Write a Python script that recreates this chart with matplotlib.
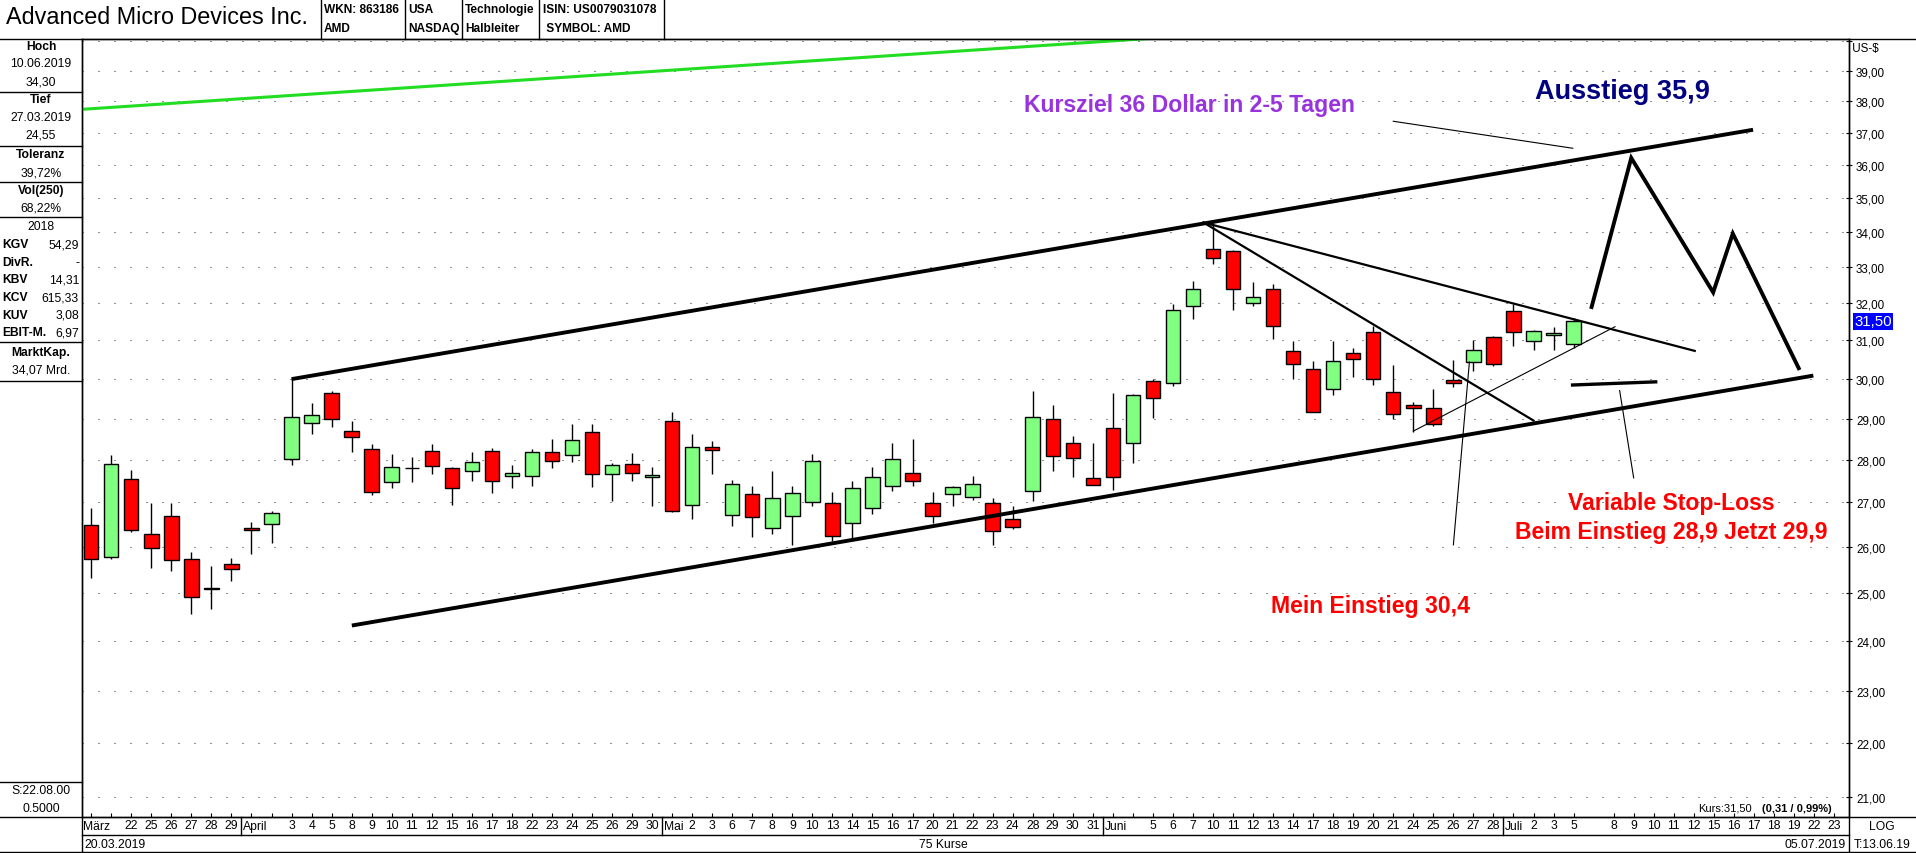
import matplotlib
matplotlib.use("Agg")
import matplotlib.pyplot as plt
from matplotlib import font_manager
from matplotlib.lines import Line2D
import numpy as np

W, H = 1916, 854

# ---- data (AMD, daily, 20.03.2019 - 05.07.2019) ----
opens = [26.49, 25.78, 27.55, 26.29, 26.69, 25.72, 25.11, 25.61, 26.41, 26.51,
         28.02, 28.88, 29.63, 28.69, 28.26, 27.48, 27.81, 28.21, 27.81, 27.74,
         28.21, 27.61, 27.61, 28.19, 28.12, 28.67, 27.67, 27.90, 27.60, 28.95,
         26.93, 28.31, 26.71, 27.19, 26.42, 26.69, 27.00, 26.98, 26.53, 26.87,
         27.38, 27.69, 26.98, 27.19, 27.12, 26.98, 26.62, 27.26, 29.00, 28.40,
         27.57, 28.76, 28.40, 29.93, 29.88, 31.92, 33.52, 33.44, 32.00, 32.39,
         30.71, 30.24, 29.75, 30.66, 31.23, 29.65, 29.33, 29.26, 29.98, 30.43,
         31.08, 31.79, 30.97, 31.13, 30.89]
highs = [26.87, 28.12, 27.76, 26.98, 26.98, 25.89, 25.57, 25.74, 26.56, 26.80,
         29.99, 29.38, 29.68, 28.95, 28.38, 28.14, 28.07, 28.38, 27.83, 28.19,
         28.29, 27.88, 28.25, 28.51, 28.86, 28.86, 27.91, 28.15, 27.82, 29.16,
         28.63, 28.44, 27.51, 27.37, 27.73, 27.39, 28.13, 27.25, 27.49, 27.82,
         28.39, 28.49, 27.25, 27.39, 27.61, 27.10, 26.91, 29.69, 29.34, 28.58,
         28.39, 29.64, 29.62, 30.00, 31.97, 32.60, 34.30, 33.49, 32.57, 32.51,
         30.98, 30.45, 30.98, 30.80, 31.37, 30.36, 29.40, 29.73, 30.48, 31.00,
         31.11, 31.97, 31.26, 31.34, 31.58]
lows = [25.32, 25.72, 26.32, 25.53, 25.47, 24.55, 24.66, 25.25, 25.84, 26.08,
        27.87, 28.61, 28.80, 28.18, 27.18, 27.33, 27.47, 27.65, 26.95, 27.49,
        27.21, 27.33, 27.39, 27.80, 27.94, 27.36, 27.04, 27.49, 26.92, 26.77,
        26.61, 27.66, 26.46, 26.21, 26.28, 26.04, 26.92, 26.13, 26.19, 26.73,
        27.26, 27.39, 26.52, 26.92, 27.06, 26.04, 26.39, 27.04, 27.73, 27.60,
        27.41, 27.28, 27.91, 29.01, 29.82, 31.57, 33.08, 31.81, 31.91, 31.04,
        29.99, 29.16, 29.58, 30.05, 29.83, 28.98, 28.67, 28.81, 29.78, 30.19,
        30.32, 30.86, 30.74, 30.74, 30.80]
closes = [25.72, 27.90, 26.38, 25.98, 25.70, 24.90, 25.07, 25.52, 26.38, 26.76,
          29.03, 29.08, 28.98, 28.55, 27.24, 27.83, 27.81, 27.85, 27.34, 27.95,
          27.50, 27.69, 28.19, 27.98, 28.48, 27.67, 27.88, 27.69, 27.64, 26.80,
          28.31, 28.24, 27.43, 26.67, 27.10, 27.21, 27.98, 26.24, 27.34, 27.60,
          28.02, 27.50, 26.69, 27.36, 27.43, 26.36, 26.44, 29.03, 28.10, 28.05,
          27.41, 27.60, 29.58, 29.50, 31.82, 32.39, 33.24, 32.39, 32.17, 31.39,
          30.37, 29.16, 30.45, 30.50, 30.00, 29.10, 29.26, 28.86, 29.90, 30.74,
          30.37, 31.21, 31.24, 31.18, 31.50]

# trading days per month (x axis), plus empty future days after one blank slot
months = ["März", "April", "Mai", "Juni", "Juli"]
month_days = [[20, 21, 22, 25, 26, 27, 28, 29],
              [1, 2, 3, 4, 5, 8, 9, 10, 11, 12, 15, 16, 17, 18, 22, 23, 24, 25, 26, 29, 30],
              [1, 2, 3, 6, 7, 8, 9, 10, 13, 14, 15, 16, 17, 20, 21, 22, 23, 24, 28, 29, 30, 31],
              [3, 4, 5, 6, 7, 10, 11, 12, 13, 14, 17, 18, 19, 20, 21, 24, 25, 26, 27, 28],
              [1, 2, 3, 5]]
future_days = [8, 9, 10, 11, 12, 15, 16, 17, 18, 19, 22, 23]

price_levels = list(range(21, 41))

# drawn analysis lines: (slot index, price)
green_line = ([-0.5, 60.0], [37.74, 40.42])
channel_top = ([10.0, 82.96], [29.99, 37.09])
channel_bottom = ([13.01, 85.97], [24.31, 30.08])
triangle_top = ([55.53, 80.05], [34.27, 30.72])
steep_down = ([55.53, 72.0], [34.27, 28.95])
thin_up = ([66.0, 76.07], [28.69, 31.36])
entry_pointer = ([68.0, 68.8], [26.04, 30.43])
stop_line = ([73.95, 78.1], [29.84, 29.92])
stop_pointer = ([76.3, 77.0], [29.70, 27.57])
target_pointer = ([65.0, 73.96], [37.36, 36.51])
forecast = ([74.9, 76.88, 80.97, 81.95, 85.24], [31.89, 36.21, 32.29, 33.95, 30.27])

# ---- fonts ----
def has_font(name):
    try:
        font_manager.findfont(font_manager.FontProperties(family=name), fallback_to_default=False)
        return True
    except Exception:
        return False

BASE = "Liberation Sans"
NARROW = "Liberation Sans Narrow" if has_font("Liberation Sans Narrow") else BASE
plt.rcParams["font.family"] = [BASE, "DejaVu Sans"]

fig = plt.figure(figsize=(W / 100, H / 100), dpi=100)

def fx(x):
    return x / W

def fy(y):
    return 1 - y / H

def hline(y, x0, x1, lw=1.0):
    fig.add_artist(Line2D([fx(x0), fx(x1)], [fy(y), fy(y)], color="black", lw=lw))

def vline(x, y0, y1, lw=1.0):
    fig.add_artist(Line2D([fx(x), fx(x)], [fy(y0), fy(y1)], color="black", lw=lw))

def ftext(x, y, s, ha="left", size=8.7, weight="normal", family=None, color="black"):
    fig.text(fx(x), fy(y), s, ha=ha, va="center", fontsize=size, fontweight=weight,
             family=family or BASE, color=color)

# ---- main axes ----
L, R, T, B = 82, 1849, 39.5, 818
ax = fig.add_axes([fx(L), fy(B), (R - L) / W, (B - T) / H])
ax.set_yscale("log")
ax.set_ylim(20.65, 40.09)
ax.set_xlim(-0.46, 87.75)

n = len(closes)
x = np.arange(n)
o = np.array(opens)
c = np.array(closes)

# dotted price grid
ax.hlines(price_levels, -0.46, 87.75, colors="#222222", lw=0.72,
          linestyles=[(0, (1, 15))], zorder=1)

# candles
ax.vlines(x, lows, highs, color="black", lw=1.0, zorder=3)
colors = np.where(c > o, "#80FF80", "#FF0000")
bottoms = np.minimum(o, c)
heights = np.abs(c - o)
ax.bar(x, heights, bottom=bottoms, width=0.72, color=colors, edgecolor="black",
       linewidth=1.0, zorder=4)

# analysis lines
ax.plot(*green_line, color="#22DD22", lw=2.2, zorder=5, solid_capstyle="butt")
for ln in (channel_top, channel_bottom):
    ax.plot(*ln, color="black", lw=2.8, zorder=5, solid_capstyle="butt")
for ln in (triangle_top, steep_down):
    ax.plot(*ln, color="black", lw=1.6, zorder=5)
for ln in (thin_up, entry_pointer, stop_pointer, target_pointer):
    ax.plot(*ln, color="black", lw=0.8, zorder=5)
ax.plot(*stop_line, color="black", lw=2.4, zorder=5)
ax.plot(*forecast, color="black", lw=2.8, zorder=5, solid_joinstyle="miter")

# annotation texts
ax.text(46.57, 37.91, "Kursziel 36 Dollar in 2-5 Tagen", color="#9933DD", fontsize=16.6,
        fontweight="bold", va="center", ha="left", zorder=6)
ax.text(72.07, 38.34, "Ausstieg 35,9", color="#000080", fontsize=19.5,
        fontweight="bold", va="center", ha="left", zorder=6)
ax.text(78.87, 27.0, "Variable Stop-Loss", color="#FF0000", fontsize=16.6,
        fontweight="bold", va="center", ha="center", zorder=6)
ax.text(78.87, 26.33, "Beim Einstieg 28,9 Jetzt 29,9", color="#FF0000", fontsize=16.6,
        fontweight="bold", va="center", ha="center", zorder=6)
ax.text(58.9, 24.72, "Mein Einstieg 30,4", color="#FF0000", fontsize=16.6,
        fontweight="bold", va="center", ha="left", zorder=6)

# y axis on the right
ax.yaxis.tick_right()
ax.set_yticks(price_levels)
ax.set_yticklabels([f"{v},00" if v < 40 else "" for v in price_levels])
ax.yaxis.set_minor_locator(matplotlib.ticker.NullLocator())
ax.tick_params(axis="y", direction="inout", length=5, width=0.8, pad=2.5, labelsize=8.4)
ax.text(1.0, 0.988, " US-$", transform=ax.transAxes, ha="left", va="center", fontsize=8.4)

# last price marker
ax.annotate("31,50", xy=(1.0, closes[-1]), xycoords=("axes fraction", "data"),
            xytext=(4, 0), textcoords="offset points", ha="left", va="center",
            color="white", fontsize=10.8,
            bbox=dict(boxstyle="square,pad=0.08", fc="#0000FF", ec="none"))

# x axis: slots with day labels
ticks, labels = [], []
slot = 0
for m, days in zip(months, month_days):
    for k, d in enumerate(days):
        ticks.append(slot)
        if k == 0:
            labels.append("")
            ax.text(slot - 0.42, -0.0115, m, transform=ax.get_xaxis_transform(),
                    ha="left", va="center", fontsize=8.7, family=NARROW, clip_on=False)
            if slot > 0:
                ax.plot([slot - 0.5, slot - 0.5], [0, -0.023], color="black", lw=1.0,
                        transform=ax.get_xaxis_transform(), clip_on=False)
        elif k == 1 and m not in ("Mai", "Juli"):
            labels.append("")
        else:
            labels.append(str(d))
        slot += 1
slot += 1
for d in future_days:
    ticks.append(slot)
    labels.append(str(d))
    slot += 1
ax.set_xticks(ticks)
ax.set_xticklabels(labels, family=NARROW, fontsize=8.7)
ax.tick_params(axis="x", direction="in", length=3, width=0.8, pad=1.5)

for sp in ax.spines.values():
    sp.set_linewidth(1.0)

fig.text(fx(1698), fy(809), "Kurs:31,50", fontsize=8, ha="left", va="center", family=BASE)
fig.text(fx(1832), fy(809), "(0,31 / 0,99%)", fontsize=8, ha="right", va="center",
         fontweight="bold", family=BASE)

# ---- frame lines ----
hline(39.5, 0, W)
hline(818, 0, W)
hline(836, L, R)
hline(853, 0, W)
vline(L, 39.5, 854)
vline(R, 39.5, 854)

# header
ftext(6, 18, "Advanced Micro Devices Inc.", size=16.8)
for sx in (320.5, 405, 462, 539, 664):
    vline(sx, 0, 39.5)
head = [(324, "WKN: 863186", "AMD"), (408, "USA", "NASDAQ"),
        (465, "Technologie", "Halbleiter"), (543, "ISIN: US0079031078", " SYMBOL: AMD")]
for hx, t1, t2 in head:
    ftext(hx, 10, t1, size=8.6, weight="bold", family=NARROW)
    ftext(hx, 29, t2, size=8.6, weight="bold", family=NARROW)

# left info panel
cx = 41
ftext(cx, 46.7, "Hoch", ha="center", weight="bold")
ftext(cx, 64.3, "10.06.2019", ha="center")
ftext(cx, 82.3, "34,30", ha="center")
hline(93.3, 0, L)
ftext(cx, 100.3, "Tief", ha="center", weight="bold")
ftext(cx, 118.3, "27.03.2019", ha="center")
ftext(cx, 136, "24,55", ha="center")
hline(147.3, 0, L)
ftext(cx, 155.3, "Toleranz", ha="center", weight="bold")
ftext(cx, 173.3, "39,72%", ha="center")
hline(183.3, 0, L)
ftext(cx, 191, "Vol(250)", ha="center", weight="bold")
ftext(cx, 209, "68,22%", ha="center")
hline(218.3, 0, L)
ftext(cx, 226.7, "2018", ha="center")
ratios = [("KGV", "54,29"), ("DivR.", "-"), ("KBV", "14,31"), ("KCV", "615,33"),
          ("KUV", "3,08"), ("EBIT-M.", "6,97")]
for i, (k, v) in enumerate(ratios):
    yy = 245 + i * 17.7
    ftext(2, yy, k, weight="bold")
    ftext(79, yy, v, ha="right")
hline(343.3, 0, L)
ftext(cx, 352.7, "MarktKap.", ha="center", weight="bold")
ftext(cx, 370.7, "34,07 Mrd.", ha="center")
hline(382, 0, L)
hline(782.7, 0, L)
ftext(cx, 790.7, "S:22.08.00", ha="center")
ftext(cx, 809, "0.5000", ha="center")

# bottom info row
ftext(84, 845, "20.03.2019")
ftext(943, 845, "75 Kurse", ha="center")
ftext(1846, 845, "05.07.2019", ha="right")
ftext(1882, 827, "LOG", ha="center")
ftext(1882, 845, "T:13.06.19", ha="center")

fig.savefig("out.png", dpi=100)
